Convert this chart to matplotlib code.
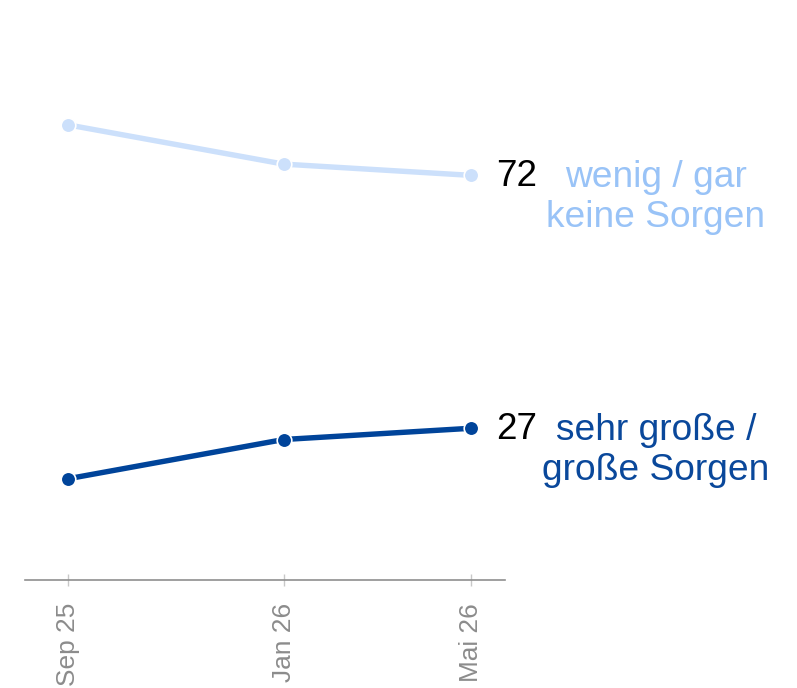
import matplotlib
matplotlib.use("Agg")
import matplotlib.pyplot as plt
import numpy as np
import datetime as dt
import matplotlib.dates as mdates

plt.rcParams['font.family'] = ['Liberation Sans', 'DejaVu Sans']

dates = [dt.date(2025, 9, 10), dt.date(2026, 1, 15), dt.date(2026, 5, 5)]
tick_labels = ["Sep 25", "Jan 26", "Mai 26"]
wenig = [81, 74, 72]
gross = [18, 25, 27]
series_names = ["wenig / gar\nkeine Sorgen", "sehr große /\ngroße Sorgen"]

light_line = "#cce0fb"
light_text = "#99c3f7"
dark_line = "#00449a"
dark_text = "#0a489b"

W, H = 797, 688
fig = plt.figure(figsize=(W / 100, H / 100), dpi=100)
ax = fig.add_axes([25 / W, (H - 580) / H, 480 / W, 562 / H])

x = mdates.date2num(dates)
for vals, lc, tc, name in [(wenig, light_line, light_text, series_names[0]),
                           (gross, dark_line, dark_text, series_names[1])]:
    ax.plot(x, vals, color=lc, lw=3.9, marker='o', ms=10.5, mfc=lc,
            mec='white', mew=1.2, solid_capstyle='round', zorder=3, clip_on=False)
    ax.annotate(f"{vals[-1]}", (x[-1], vals[-1]), xytext=(25, -1),
                textcoords='offset pixels', ha='left', va='center',
                fontsize=26.5, color='black', annotation_clip=False)
    ax.annotate(name, (x[-1], vals[-1]), xytext=(185, -22),
                textcoords='offset pixels', ha='center', va='center',
                fontsize=26.7, color=tc, linespacing=1.2, annotation_clip=False,
                multialignment='center')

ax.set_xlim(x[0] - 25, x[-1] + 20)
ax.set_ylim(0, 100)
for s in ['top', 'right', 'left']:
    ax.spines[s].set_visible(False)
ax.spines['bottom'].set_color('#8f8f8f')
ax.spines['bottom'].set_linewidth(1.2)
ax.set_yticks([])
ax.set_xticks(x)
ax.set_xticklabels(tick_labels, rotation=90, fontsize=18.9, color='#8c8c8c')
ax.tick_params(axis='x', direction='inout', length=9, width=1, color='#c8c8c8', pad=12)

fig.savefig("out.png", dpi=100, facecolor='white')
